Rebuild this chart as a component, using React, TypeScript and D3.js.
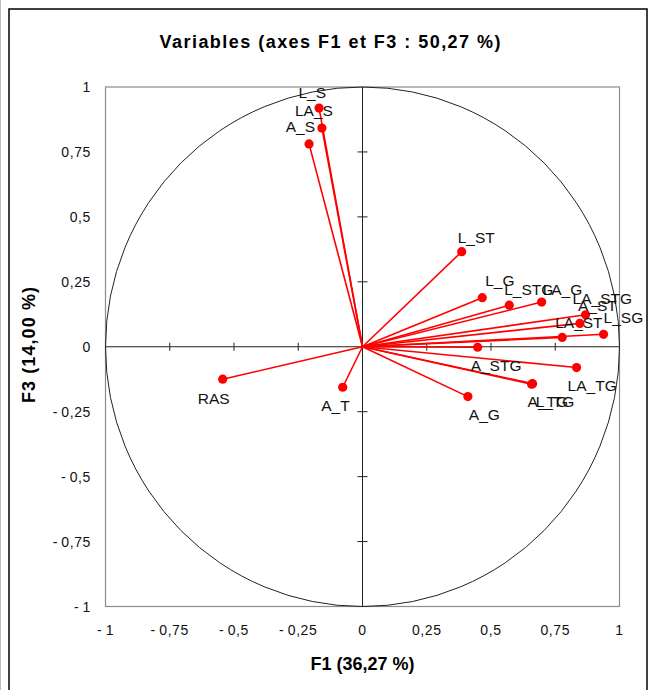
import React from "react";
import * as d3 from "d3";

// Correlation circle: variables projected on factors F1 and F3
const variables = [
  "L_S", "LA_S", "A_S", "L_ST", "L_G", "L_STG", "LA_G", "LA_STG", "A_ST",
  "LA_ST", "L_SG", "A_STG", "LA_TG", "L_TG", "A_TG", "A_G", "RAS", "A_T",
];
const f1 = [
  -0.169, -0.158, -0.208, 0.386, 0.466, 0.571, 0.697, 0.868, 0.846,
  0.777, 0.938, 0.448, 0.833, 0.662, 0.658, 0.410, -0.544, -0.077,
];
const f3 = [
  0.919, 0.842, 0.781, 0.366, 0.189, 0.160, 0.172, 0.123, 0.090,
  0.036, 0.048, -0.002, -0.080, -0.142, -0.144, -0.192, -0.125, -0.156,
];
const tickValues = [-1, -0.75, -0.5, -0.25, 0, 0.25, 0.5, 0.75, 1];

const title = "Variables (axes F1 et F3 : 50,27 %)";
const xTitle = "F1 (36,27 %)";
const yTitle = "F3 (14,00 %)";

// Label placement relative to each point: [dx, dy] (anchor start when F1 > 0, end otherwise)
const labelOffset: Record<string, [number, number]> = {
  L_S: [7, -10],
  LA_S: [11, -12],
  A_S: [6, -12],
  L_ST: [-4, -9],
  L_G: [3, -12],
  L_STG: [-5, -10],
  LA_G: [1, -7],
  LA_STG: [-13, -11],
  A_ST: [-2, -12],
  LA_ST: [-7, -9],
  L_SG: [0, -11],
  A_STG: [-7, 24],
  LA_TG: [-9, 23],
  L_TG: [3, 23],
  A_TG: [-4, 23],
  A_G: [1, 23],
  RAS: [7, 25],
  A_T: [7, 24],
};

const W = 652;
const H = 690;
const box = { left: 105.5, right: 619.5, top: 87, bottom: 606.5 };

const fmt = (v: number) => {
  const s = String(Math.abs(v)).replace(".", ",");
  return v < 0 ? "-\u2009" + s : s;
};

export default function App() {
  const x = d3.scaleLinear().domain([-1, 1]).range([box.left, box.right]);
  const y = d3.scaleLinear().domain([-1, 1]).range([box.bottom, box.top]);
  const x0 = x(0);
  const y0 = y(0);
  const font = "'Liberation Sans', Arial, sans-serif";

  const points = variables.map((name, i) => ({ name, vx: f1[i], vy: f3[i] }));

  return (
    <svg
      width={W}
      height={H}
      style={{ position: "absolute", left: 0, top: 0, background: "#fff" }}
      fontFamily={font}
    >
      <rect x={0} y={0} width={W} height={H} fill="#fff" />
      {/* outer frame */}
      <line x1={0.5} y1={0} x2={0.5} y2={H} stroke="#bbb" strokeWidth={1} />
      <rect x={9} y={9} width={638} height={H + 10} fill="none" stroke="#111" strokeWidth={1.6} />

      {/* title */}
      <text
        x={330}
        y={48}
        textAnchor="middle"
        fontSize={18}
        fontWeight="bold"
        textLength={341}
        lengthAdjust="spacing"
      >
        {title}
      </text>

      {/* plot box */}
      <rect
        x={box.left}
        y={box.top}
        width={box.right - box.left}
        height={box.bottom - box.top}
        fill="none"
        stroke="#8c8c8c"
        strokeWidth={1.2}
      />

      {/* unit circle */}
      <ellipse
        cx={x0}
        cy={y0}
        rx={x(1) - x0}
        ry={y0 - y(1)}
        fill="none"
        stroke="#222"
        strokeWidth={1}
      />

      {/* zero axes */}
      <line x1={box.left} x2={box.right} y1={y0} y2={y0} stroke="#222" strokeWidth={1} />
      <line x1={x0} x2={x0} y1={box.top} y2={box.bottom} stroke="#222" strokeWidth={1} />
      {tickValues
        .filter((t) => t !== 0 && Math.abs(t) !== 1)
        .map((t) => (
          <g key={"tk" + t}>
            <line x1={x(t)} x2={x(t)} y1={y0 - 4} y2={y0 + 4} stroke="#222" strokeWidth={1} />
            <line x1={x0 - 5} x2={x0 + 5} y1={y(t)} y2={y(t)} stroke="#222" strokeWidth={1} />
          </g>
        ))}

      {/* tick labels */}
      {tickValues.map((t) => (
        <text
          key={"xl" + t}
          x={x(t)}
          y={635}
          textAnchor="middle"
          fontSize={14}
          letterSpacing={0.6}
          fill="#111"
        >
          {fmt(t)}
        </text>
      ))}
      {tickValues.map((t) => (
        <text
          key={"yl" + t}
          x={91}
          y={y(t) + 5}
          textAnchor="end"
          fontSize={14}
          letterSpacing={0.6}
          fill="#111"
        >
          {fmt(t)}
        </text>
      ))}

      {/* axis titles */}
      <text x={362.5} y={670} textAnchor="middle" fontSize={18} fontWeight="bold">
        {xTitle}
      </text>
      <text
        transform={`translate(35,345) rotate(-90)`}
        textAnchor="middle"
        fontSize={18}
        fontWeight="bold"
        textLength={116}
        lengthAdjust="spacing"
      >
        {yTitle}
      </text>

      {/* vectors */}
      {points.map((p) => (
        <line
          key={"v" + p.name}
          x1={x0}
          y1={y0}
          x2={x(p.vx)}
          y2={y(p.vy)}
          stroke="#ff0000"
          strokeWidth={1.6}
        />
      ))}
      {points.map((p) => (
        <circle key={"c" + p.name} cx={x(p.vx)} cy={y(p.vy)} r={4.6} fill="#ff0000" />
      ))}
      {points.map((p) => {
        const [dx, dy] = labelOffset[p.name] || [0, 0];
        return (
          <text
            key={"t" + p.name}
            x={x(p.vx) + dx}
            y={y(p.vy) + dy}
            textAnchor={p.vx >= 0 ? "start" : "end"}
            fontSize={15.5}
            fill="#111"
          >
            {p.name}
          </text>
        );
      })}
    </svg>
  );
}
